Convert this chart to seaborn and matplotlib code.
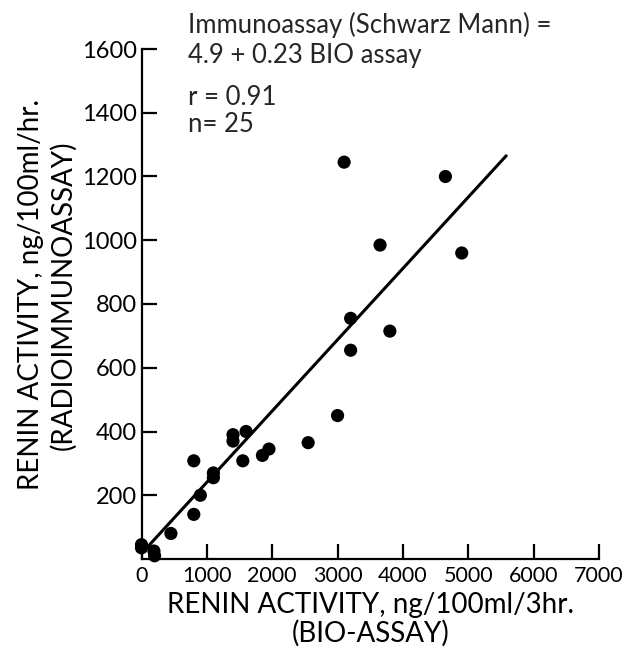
import matplotlib
matplotlib.use("Agg")
import matplotlib.pyplot as plt
import seaborn as sns
import pandas as pd

# data
bio_assay = [3100, 4650, 3650, 4900, 3200, 3800, 3200, 3000, 2550, 1600,
             1400, 1400, 1550, 800, 1850, 1950, 1100, 1100, 900, 800,
             450, 0, 0, 190, 200]
radio_assay = [1245, 1200, 985, 960, 755, 715, 655, 450, 365, 400,
               390, 370, 308, 308, 325, 345, 255, 270, 200, 140,
               80, 45, 35, 25, 10]
fit_x = [80, 5580]
fit_y = [35, 1265]

x_ticks = [0, 1000, 2000, 3000, 4000, 5000, 6000, 7000]
y_ticks = [200, 400, 600, 800, 1000, 1200, 1400, 1600]

notes = ["Immunoassay (Schwarz Mann) =", "4.9 + 0.23 BIO assay", "r = 0.91", "n= 25"]

df = pd.DataFrame({"bio": bio_assay, "radio": radio_assay})
fit = pd.DataFrame({"bio": fit_x, "radio": fit_y})

sns.set_theme(style="white")
plt.rcParams["font.family"] = ["Lato", "DejaVu Sans"]

fig = plt.figure(figsize=(6.28, 6.58), dpi=100)
ax = fig.add_axes([141.5 / 628, (658 - 559) / 658, 457.5 / 628, 510 / 658])

sns.lineplot(data=fit, x="bio", y="radio", color="black", linewidth=2.2, ax=ax)
sns.scatterplot(data=df, x="bio", y="radio", color="black", s=90,
                edgecolor="none", ax=ax, clip_on=False, zorder=5)

ax.set_xlim(0, 7000)
ax.set_ylim(0, 1600)
ax.set_xticks(x_ticks)
ax.set_yticks(y_ticks)
sns.despine(ax=ax)
for s in ["left", "bottom"]:
    ax.spines[s].set_color("black")
    ax.spines[s].set_linewidth(1.6)
ax.tick_params(axis="y", left=True, direction="in", length=10.5, width=1.6,
               colors="black", labelsize=17, pad=3.5)
ax.tick_params(axis="x", bottom=True, direction="in", length=10.5, width=1.6,
               colors="black", labelsize=15.5, pad=5)

ax.set_xlabel("RENIN ACTIVITY, ng/100ml/3hr.\n(BIO-ASSAY)", fontsize=20,
              color="black", linespacing=1.1)
ax.xaxis.set_label_coords(0.5, -0.065)
ax.set_ylabel("RENIN ACTIVITY, ng/100ml/hr.\n(RADIOIMMUNOASSAY)", fontsize=20,
              color="black", linespacing=1.25)
ax.yaxis.set_label_coords(-0.142, 0.518)

baselines = [33, 63, 105, 132]
for txt, yb in zip(notes, baselines):
    fig.text(188 / 628, 1 - yb / 658, txt, fontsize=18.5, va="baseline", ha="left")

fig.savefig("out.png", dpi=100)
